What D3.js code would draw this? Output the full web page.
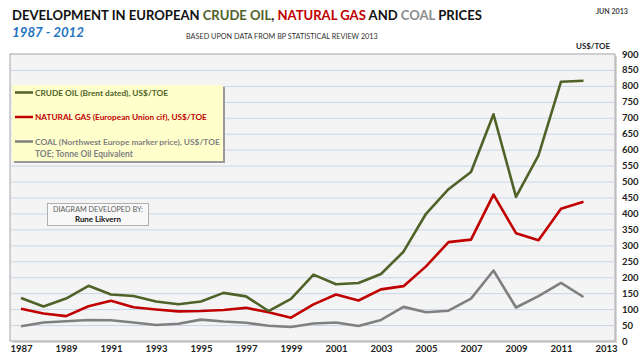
<!DOCTYPE html>
<html><head><meta charset="utf-8">
<script src="https://cdn.jsdelivr.net/npm/d3@7/dist/d3.min.js"></script>
<style>
html,body{margin:0;padding:0;background:#fff;}
svg{display:block;font-family:Lato,"Open Sans",sans-serif;}
</style></head>
<body>
<svg id="c" width="640" height="360"></svg>
<script>
const years = d3.range(1987, 2013);
const oil = [135,108,133,173,146,141,124,115,124,151,140,94,132,208,178,182,210,280,399,476,530,711,452,582,813,816];
const gas = [101,86,78,109,126,106,99,93,94,97,104,90,73,115,146,127,162,172,234,310,318,459,338,316,415,437];
const coal = [46,58,62,66,65,58,50,54,67,61,57,48,44,55,58,47,66,107,90,95,133,221,105,141,182,138];
const yTicks = d3.range(0, 901, 50);
const xTicks = d3.range(1987, 2014, 2);
const seriesNames = ["CRUDE OIL (Brent dated),  US$/TOE", "NATURAL GAS (European Union cif), US$/TOE", "COAL (Northwest Europe marker price), US$/TOE"];
const colors = ["#4f6228", "#c00000", "#808080"];

const svg = d3.select("#c");
const P = {l:10, r:615, t:54, b:341};
const x = d3.scaleLinear().domain([1987, 2013]).range([21, 606]);
const y = d3.scaleLinear().domain([0, 900]).range([P.b, P.t]);

function fit(sel, w){
  let fs = parseFloat(sel.attr("font-size"));
  for(let i=0;i<4;i++){
    const cw = sel.node().getComputedTextLength();
    if(cw>0){ fs = fs*w/cw; sel.attr("font-size", fs); }
  }
}

// plot area
svg.append("rect").attr("x",P.l+2).attr("y",P.t+2).attr("width",P.r-P.l).attr("height",P.b-P.t).attr("fill","#d8d8d8");
svg.append("rect").attr("x",P.l).attr("y",P.t).attr("width",P.r-P.l).attr("height",P.b-P.t).attr("fill","#f4f4f4").attr("stroke","#a6a6a6").attr("stroke-width",1);

// gridlines
svg.append("g").selectAll("line").data(yTicks.filter(v=>v>0 && v<900)).join("line")
  .attr("x1",P.l+1).attr("x2",P.r-1).attr("y1",d=>y(d)+0.5).attr("y2",d=>y(d)+0.5)
  .attr("stroke","#c9d6e8").attr("stroke-width",1);

// right axis
const ya = d3.axisRight(y).tickValues(yTicks).tickSize(0).tickPadding(0);
const gy = svg.append("g").attr("transform",`translate(622,0)`).call(ya);
gy.select(".domain").remove();
gy.selectAll("text").attr("font-size",9.5).attr("font-weight","bold").attr("fill","#222").attr("font-family","Lato,sans-serif").attr("x",0);

// bottom axis
const xa = d3.axisBottom(x).tickValues(xTicks).tickFormat(d3.format("d")).tickSize(0).tickPadding(0);
const gx = svg.append("g").attr("transform",`translate(0,345)`).call(xa);
gx.select(".domain").remove();
gx.selectAll("text").attr("font-size",9.5).attr("font-weight","bold").attr("fill","#222").attr("font-family","Lato,sans-serif");

// lines
const line = d3.line().x((d,i)=>x(years[i])).y(d=>y(d));
[coal, gas, oil].forEach((s,k)=>{
  const c = [colors[2], colors[1], colors[0]][k];
  svg.append("path").attr("d",line(s)).attr("fill","none").attr("stroke",c).attr("stroke-width",2.6).attr("stroke-linejoin","round");
});

// legend box
svg.append("rect").attr("x",14).attr("y",87).attr("width",211).attr("height",76).attr("fill","#9a9a9a");
svg.append("rect").attr("x",12).attr("y",85).attr("width",211).attr("height",76).attr("fill","#ffffcc");
const legY = [92.5, 117, 141.5];
const legW = [133, 172, 185];
seriesNames.forEach((n,i)=>{
  svg.append("line").attr("x1",15).attr("x2",33).attr("y1",legY[i]).attr("y2",legY[i]).attr("stroke",colors[i]).attr("stroke-width",2.5);
  const t = svg.append("text").attr("x",35).attr("y",legY[i]+3).attr("font-size",9).attr("font-weight","bold").attr("fill",colors[i]).text(n);
  fit(t, legW[i]);
});
const tt = svg.append("text").attr("x",35).attr("y",156.5).attr("font-size",9).attr("font-weight","bold").attr("fill","#808080").text("TOE; Tonne Oil Equivalent");
fit(tt, 98);

// diagram box
svg.append("rect").attr("x",47.5).attr("y",203.5).attr("width",101).attr("height",22).attr("fill","#f8f8f8").attr("stroke","#b0b0b0");
const d1 = svg.append("text").attr("x",98).attr("y",212).attr("text-anchor","middle").attr("font-size",8).attr("fill","#606060").text("DIAGRAM DEVELOPED BY:");
fit(d1, 90);
const d2 = svg.append("text").attr("x",98).attr("y",222).attr("text-anchor","middle").attr("font-size",8.5).attr("font-weight","bold").attr("fill","#111").text("Rune Likvern");
fit(d2, 46);

// titles
const title = svg.append("text").attr("x",12).attr("y",20).attr("font-size",15).attr("font-weight","bold").attr("fill","#111");
[["DEVELOPMENT IN EUROPEAN ","#111"],["CRUDE OIL","#4f6228"],[", ","#111"],["NATURAL GAS","#c00000"],[" AND ","#111"],["COAL","#8c8c8c"],[" PRICES","#111"]]
  .forEach(p=>title.append("tspan").attr("fill",p[1]).text(p[0]));
fit(title, 470);
const sub = svg.append("text").attr("x",12).attr("y",37).attr("font-size",14).attr("font-style","italic").attr("font-weight","bold").attr("fill","#1f73c2").text("1987 - 2012");
fit(sub, 72);
const src = svg.append("text").attr("x",186).attr("y",39).attr("font-size",7).attr("fill","#333").text("BASED UPON DATA FROM BP STATISTICAL REVIEW 2013");
fit(src, 192);
const jun = svg.append("text").attr("x",596).attr("y",14).attr("font-size",7).attr("font-weight","bold").attr("fill","#444").text("JUN 2013");
fit(jun, 32);
const unit = svg.append("text").attr("x",576).attr("y",49).attr("font-size",9).attr("font-weight","bold").attr("fill","#222").text("US$/TOE");
fit(unit, 34);
</script>
</body></html>
